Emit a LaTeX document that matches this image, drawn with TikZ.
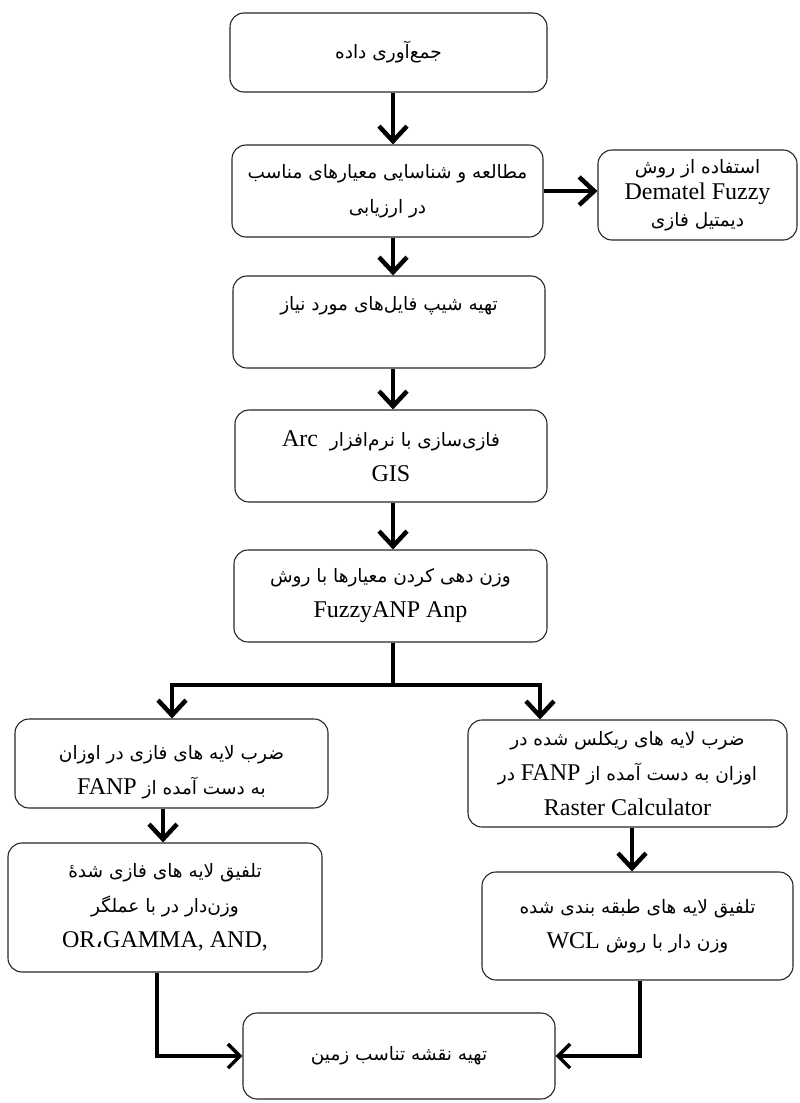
\documentclass[tikz,border=0pt]{standalone}
\usepackage{fontspec}
\setmainfont{Liberation Serif}
\newfontfamily\fa[Script=Arabic]{DejaVu Sans}
\TeXXeTstate=1
\usetikzlibrary{arrows.meta}
\newcommand{\RL}[1]{{\fa\fontsize{18.5}{\baselineskip}\selectfont\beginR #1\endR}}
\newcommand{\LR}[1]{{\rmfamily\fontsize{24}{\baselineskip}\selectfont\beginL #1\endL}}
\begin{document}
\begin{tikzpicture}[x=1pt,y=-1pt,
  box/.style={draw=black!85, line width=1.1pt, rounded corners=14pt, align=center, inner sep=0pt,
    font=\fontsize{24}{35}\selectfont},
  txt/.style={align=center, inner sep=0pt, font=\fontsize{24}{35}\selectfont},
  arr/.style={line width=4.5pt, -{Straight Barb[length=15pt,width=28pt]}},
  arrB/.style={line width=3.5pt, -{Straight Barb[length=12pt,width=24pt]}},
  ln/.style={line width=4.5pt}]
\useasboundingbox (0,0) rectangle (800,1103);
\coordinate (spine) at (393,0);
\node[box, minimum width=317pt, minimum height=79pt] (b1) at (388.5,52.5) {\RL{جمع‌آوری داده}};
\node[box, minimum width=311pt, minimum height=92pt] (b2) at (387.5,191) {\RL{مطالعه و شناسایی معیارهای مناسب}\\\RL{در ارزیابی}};
\node[box, minimum width=199pt, minimum height=90pt, font=\fontsize{24}{26.5}\selectfont] (b3) at (697.5,195) {\RL{استفاده از روش}\\\LR{Dematel Fuzzy}\\\RL{دیمتیل فازی}};
\node[box, minimum width=312pt, minimum height=92pt] (b4) at (389,322) {};
\node[txt] (b4t) at (389,306) {\RL{تهیه شیپ فایل‌های مورد نیاز}};
\node[box, minimum width=312pt, minimum height=92pt] (b5) at (391,456) {\RL{فازی‌سازی با نرم‌افزار \ \LR{Arc}}\\\LR{GIS}};
\node[box, minimum width=313pt, minimum height=92pt] (b6) at (390.5,596) {\RL{وزن دهی کردن معیارها با روش}\\\LR{FuzzyANP Anp}};
\node[box, minimum width=313pt, minimum height=89pt] (l1) at (171.5,763.5) {};
\node[txt] (l1t) at (171.5,772) {\RL{ضرب لایه های فازی در اوزان}\\\RL{به دست آمده از \LR{FANP}}};
\node[box, minimum width=319pt, minimum height=107pt] (r1) at (627.5,773.5) {\RL{ضرب لایه های ریکلس شده در}\\\RL{اوزان به دست آمده از \LR{FANP} در}\\\LR{Raster Calculator}};
\node[box, minimum width=314pt, minimum height=129pt] (l2) at (165,907.5) {\RL{تلفیق لایه های فازی شدهٔ}\\\RL{وزن‌دار در با عملگر}\\\LR{OR{\fa ،}GAMMA, AND,}};
\node[box, minimum width=311pt, minimum height=108pt] (r2) at (637.5,926) {\RL{تلفیق لایه های طبقه بندی شده}\\\RL{وزن دار با روش \LR{WCL}}};
\node[box, minimum width=312pt, minimum height=86pt] (f) at (399,1056) {\RL{تهیه نقشه تناسب زمین}};
\coordinate (brM) at (393,685);
\coordinate (brL) at (172,685);
\coordinate (brR) at (540,685);
\coordinate (cL) at (163,0);
\coordinate (cR) at (632,0);
\coordinate (dL) at (157,0);
\coordinate (dR) at (640,0);
\draw[arr] (b1.south -| spine) -- (b2.north -| spine);
\draw[arr] (b2.east) -- (b2.east -| b3.west);
\draw[arr] (b2.south -| spine) -- (b4.north -| spine);
\draw[arr] (b4.south -| spine) -- (b5.north -| spine);
\draw[arr] (b5.south -| spine) -- (b6.north -| spine);
\draw[ln] (b6.south -| spine) -- (brM);
\draw[arr] (brM) -| (l1.north -| brL);
\draw[arr] (brM) -| (r1.north -| brR);
\draw[arr] (l1.south -| cL) -- (l2.north -| cL);
\draw[arr] (r1.south -| cR) -- (r2.north -| cR);
\draw[arrB] (l2.south -| dL) |- (f.west);
\draw[arrB] (r2.south -| dR) |- (f.east);
\end{tikzpicture}
\end{document}
